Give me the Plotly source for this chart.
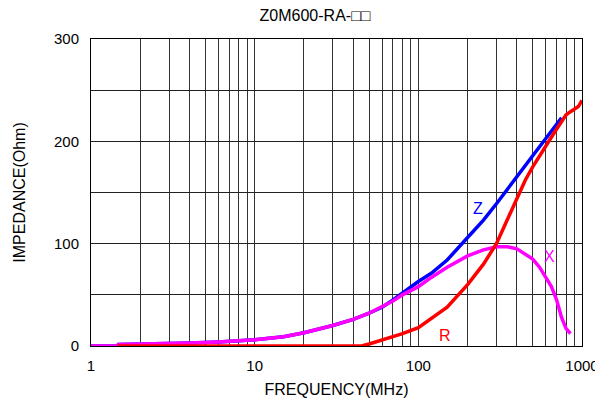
import plotly.graph_objects as go

# Data
freq_x = [1, 1.45, 1.47, 3, 4, 6, 8, 10, 15, 20, 30, 40, 50, 60, 70, 80, 100, 120, 150,
          200, 250, 300, 350, 400, 450, 500, 550, 600, 650, 700, 750, 800, 850]
x_vals = [0, 0, 1.5, 2, 3, 4, 5, 6, 9, 13, 20, 26, 32, 38, 44, 50, 58, 67, 77,
          88, 94, 97, 97, 95, 90, 85, 77, 67, 58, 45, 28, 17, 12]

freq_z = [1, 1.45, 1.47, 3, 4, 6, 8, 10, 15, 20, 30, 40, 50, 60, 70, 80, 100, 120, 150,
          200, 250, 300, 350, 400, 450, 500, 550, 600, 650, 700, 750]
z_vals = [0, 0, 1.5, 2, 3, 4, 5, 6, 9, 13, 20, 26, 32, 38, 45, 52, 63, 71, 84,
          106, 123, 139, 153, 165, 176, 186, 194, 202, 210, 216, 223]

freq_r = [1.45, 45, 50, 60, 70, 80, 100, 120, 150, 200, 250, 300, 350, 400, 450, 500,
          550, 600, 650, 700, 750, 800, 850, 900, 950, 1000]
r_vals = [0, 0, 2, 6, 9, 12, 18, 27, 38, 60, 80, 100, 124, 145, 162, 175,
          186, 195, 204, 212, 220, 226, 229, 232, 234, 240]

x_tick_labels = ["1", "10", "100", "1000"]
y_tick_labels = ["0", "100", "200", "300"]

FONT = "Liberation Sans, Arial, sans-serif"

fig = go.Figure()
fig.add_trace(go.Scatter(x=freq_z, y=z_vals, mode="lines", line=dict(color="#0000ff", width=3.5), name="Z"))
fig.add_trace(go.Scatter(x=freq_x, y=x_vals, mode="lines", line=dict(color="#ff00ff", width=3.5), name="X"))
fig.add_trace(go.Scatter(x=freq_r, y=r_vals, mode="lines", line=dict(color="#ff0000", width=3.5), name="R"))

# x grid at 1..9 per decade
decades = [1, 10, 100]
xt, xtt = [], []
for i, d in enumerate(decades):
    for m in range(1, 10):
        xt.append(d * m)
        xtt.append(x_tick_labels[i] if m == 1 else "")
xt.append(1000)
xtt.append(x_tick_labels[3])

yt = [0, 50, 100, 150, 200, 250, 300]
ytt = [y_tick_labels[0], "", y_tick_labels[1], "", y_tick_labels[2], "", y_tick_labels[3]]

fig.update_layout(
    width=595, height=395,
    margin=dict(l=83, r=21, t=31, b=57, autoexpand=False),
    paper_bgcolor="white", plot_bgcolor="white",
    showlegend=False,
    font=dict(family=FONT, size=15, color="black"),
    title=dict(text="Z0M600-RA-□□", x=0.516, xanchor="center", y=0.982, yanchor="middle",
               font=dict(size=16, family=FONT, color="black")),
    xaxis=dict(type="log", range=[0, 3], tickvals=xt, ticktext=xtt,
               showgrid=True, gridcolor="#333333", gridwidth=1,
               showline=True, linecolor="black", linewidth=1, mirror=True,
               ticks="", zeroline=False, ticklabelstandoff=6,
               title=dict(text="FREQUENCY(MHz)", font=dict(size=16), standoff=10)),
    yaxis=dict(range=[0, 300], tickvals=yt, ticktext=ytt,
               showgrid=True, gridcolor="#222222", gridwidth=1,
               showline=True, linecolor="black", linewidth=1, mirror=True,
               ticks="", zeroline=False, ticklabelstandoff=8,
               title=dict(text="IMPEDANCE(Ohm)", font=dict(size=16), standoff=24)),
)

fig.add_annotation(x=2.362, y=134, xref="x", yref="y", text="Z", showarrow=False,
                   font=dict(color="#0000ff", size=16, family=FONT))
fig.add_annotation(x=2.80, y=87, xref="x", yref="y", text="X", showarrow=False,
                   font=dict(color="#ff00ff", size=16, family=FONT))
fig.add_annotation(x=2.165, y=10, xref="x", yref="y", text="R", showarrow=False,
                   font=dict(color="#ff0000", size=16, family=FONT))

fig.write_html("out.html")
